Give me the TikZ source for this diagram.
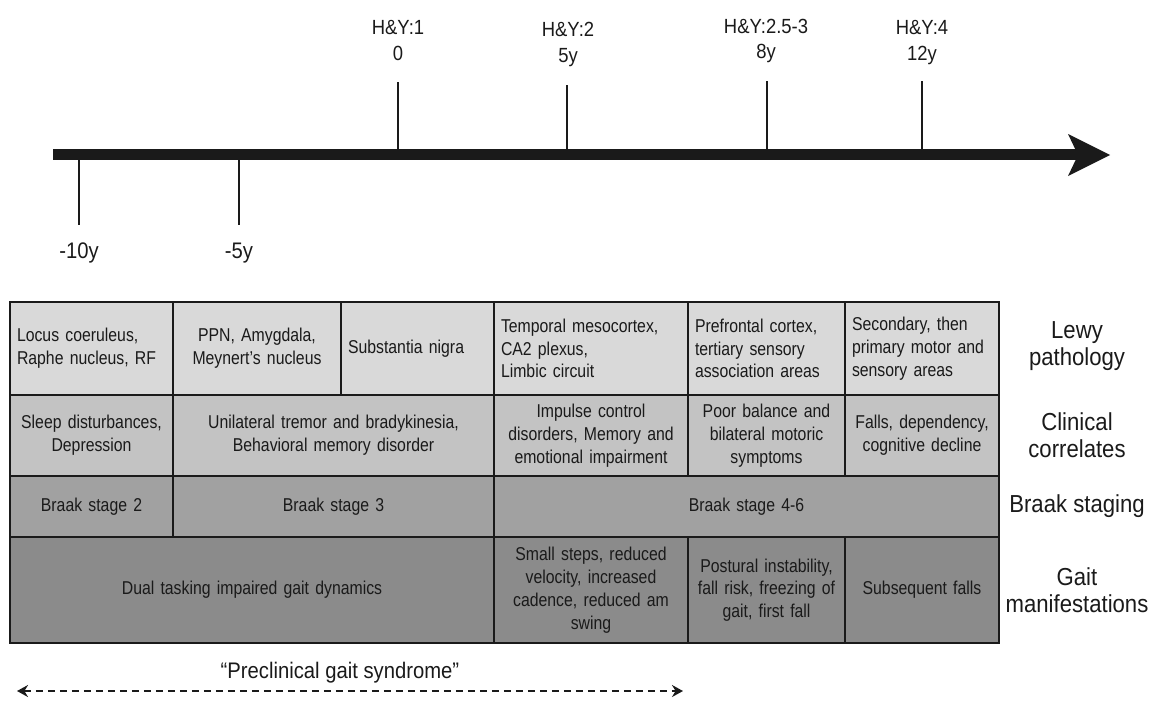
\documentclass[tikz,border=0pt]{standalone}
\usepackage{fontspec}
\setmainfont{Liberation Sans}
\newfontfamily\cellfont{Liberation Sans}[FakeStretch=0.85]
\newfontfamily\labfont{Liberation Sans}[FakeStretch=0.9]
\newfontfamily\toplabfont{Liberation Sans}[FakeStretch=0.9]
\usetikzlibrary{arrows.meta}
\definecolor{rowa}{HTML}{D9D9D9}
\definecolor{rowb}{HTML}{C3C3C3}
\definecolor{rowc}{HTML}{A1A1A1}
\definecolor{rowd}{HTML}{8B8B8B}
\definecolor{ink}{HTML}{1A1A1A}
\newcommand\tcell[8]{%
  \pgfmathsetmacro\tcx{(#2+#3)/2}\pgfmathsetmacro\tcy{(#4+#5)/2}%
  \pgfmathsetmacro\tcw{#3-#2}\pgfmathsetmacro\tch{#5-#4}\pgfmathsetmacro\tctw{#3-#2-14}%
  \node[cell, fill=#6, align=#7, minimum width=\tcw pt, minimum height=\tch pt, text width=\tctw pt] (#1) at (\tcx,\tcy) {#8};}
\tikzset{
  cell/.style={draw=ink, line width=1.7, inner xsep=7pt, inner ysep=0pt, text=ink,
    font=\cellfont\fontsize{18.6}{22.8}\selectfont},
  rowlab/.style={align=center, text=ink, inner sep=0pt, font=\labfont\fontsize{24.6}{27}\selectfont},
  toplab/.style={anchor=base, text=ink, inner sep=0pt, font=\toplabfont\fontsize{20.5}{22}\selectfont},
  botlab/.style={anchor=base, text=ink, inner sep=0pt, font=\toplabfont\fontsize{22.5}{24}\selectfont},
  tickline/.style={draw=ink, line width=2.6},
}
\begin{document}
\begin{tikzpicture}[x=1pt, y=-1pt]
\useasboundingbox (0,0) rectangle (1150,702);
% ---------- timeline ----------
\coordinate (a0) at (53,154);
\coordinate (a1) at (1080,154);
\coordinate (h1) at (1068,134);
\coordinate (h2) at (1110,155);
\coordinate (h3) at (1068,176);
\coordinate (h4) at (1078,155);
\draw[line width=11, ink] (a0) -- (a1);
\fill[ink] (h1) -- (h2) -- (h3) -- (h4) -- cycle;
% ticks above
\coordinate (t1a) at (398,82);  \coordinate (t1b) at (398,154);
\coordinate (t2a) at (567,85);  \coordinate (t2b) at (567,154);
\coordinate (t3a) at (767,81);  \coordinate (t3b) at (767,154);
\coordinate (t4a) at (922,81);  \coordinate (t4b) at (922,154);
\draw[tickline] (t1a) -- (t1b);
\draw[tickline] (t2a) -- (t2b);
\draw[tickline] (t3a) -- (t3b);
\draw[tickline] (t4a) -- (t4b);
% ticks below
\coordinate (b1a) at (79,154);  \coordinate (b1b) at (79,225);
\coordinate (b2a) at (239,154); \coordinate (b2b) at (239,225);
\draw[tickline] (b1a) -- (b1b);
\draw[tickline] (b2a) -- (b2b);
% labels
\node[toplab] (l1a) at (398,34) {H\&Y:1};
\node[toplab] (l1b) at (398,60) {0};
\node[toplab] (l2a) at (568,36) {H\&Y:2};
\node[toplab] (l2b) at (568,62) {5y};
\node[toplab] (l3a) at (766,33) {H\&Y:2.5-3};
\node[toplab] (l3b) at (766,58) {8y};
\node[toplab] (l4a) at (922,34) {H\&Y:4};
\node[toplab] (l4b) at (922,60) {12y};
\node[botlab] (m1) at (79,258) {-10y};
\node[botlab] (m2) at (239,258) {-5y};
% ---------- table ----------
\tcell{c11}{10}{173}{302}{395}{rowa}{left}{Locus coeruleus,\\Raphe nucleus, RF}
\tcell{c12}{173}{341}{302}{395}{rowa}{center}{PPN, Amygdala,\\Meynert’s nucleus}
\tcell{c13}{341}{494}{302}{395}{rowa}{left}{Substantia nigra}
\tcell{c14}{494}{688}{302}{395}{rowa}{left}{Temporal mesocortex,\\CA2 plexus,\\Limbic circuit}
\tcell{c15}{688}{845}{302}{395}{rowa}{left}{Prefrontal cortex,\\tertiary sensory\\association areas}
\tcell{c16}{845}{999}{302}{395}{rowa}{left}{Secondary, then\\primary motor and\\sensory areas}
\tcell{c21}{10}{173}{395}{476}{rowb}{center}{Sleep disturbances,\\Depression}
\tcell{c22}{173}{494}{395}{476}{rowb}{center}{Unilateral tremor and bradykinesia,\\Behavioral memory disorder}
\tcell{c23}{494}{688}{395}{476}{rowb}{center}{Impulse control\\disorders, Memory and\\emotional impairment}
\tcell{c24}{688}{845}{395}{476}{rowb}{center}{Poor balance and\\bilateral motoric\\symptoms}
\tcell{c25}{845}{999}{395}{476}{rowb}{center}{Falls, dependency,\\cognitive decline}
\tcell{c31}{10}{173}{476}{537}{rowc}{center}{Braak stage 2}
\tcell{c32}{173}{494}{476}{537}{rowc}{center}{Braak stage 3}
\tcell{c33}{494}{999}{476}{537}{rowc}{center}{Braak stage 4-6}
\tcell{c41}{10}{494}{537}{643}{rowd}{center}{Dual tasking impaired gait dynamics}
\tcell{c42}{494}{688}{537}{643}{rowd}{center}{Small steps, reduced\\velocity, increased\\cadence, reduced am\\swing}
\tcell{c43}{688}{845}{537}{643}{rowd}{center}{Postural instability,\\fall risk, freezing of\\gait, first fall}
\tcell{c44}{845}{999}{537}{643}{rowd}{center}{Subsequent falls}
% row labels
\node[rowlab] (r1) at (1077,346) {Lewy\\pathology};
\node[rowlab] (r2) at (1077,435) {Clinical\\correlates};
\node[rowlab] (r3) at (1077,506) {Braak staging};
\node[rowlab] (r4) at (1077,590) {Gait\\manifestations};
% ---------- preclinical arrow ----------
\coordinate (dl) at (17,691);
\coordinate (dr) at (683,691);
\draw[ink, line width=2.8, dash pattern=on 7pt off 5pt,
  {Stealth[length=11pt,width=12pt]}-{Stealth[length=11pt,width=12pt]}] (dl) -- (dr);
\node[anchor=base, text=ink, inner sep=0pt, font=\toplabfont\fontsize{22.5}{24}\selectfont] (pg) at (340,678) {“Preclinical gait syndrome”};
\end{tikzpicture}
\end{document}
